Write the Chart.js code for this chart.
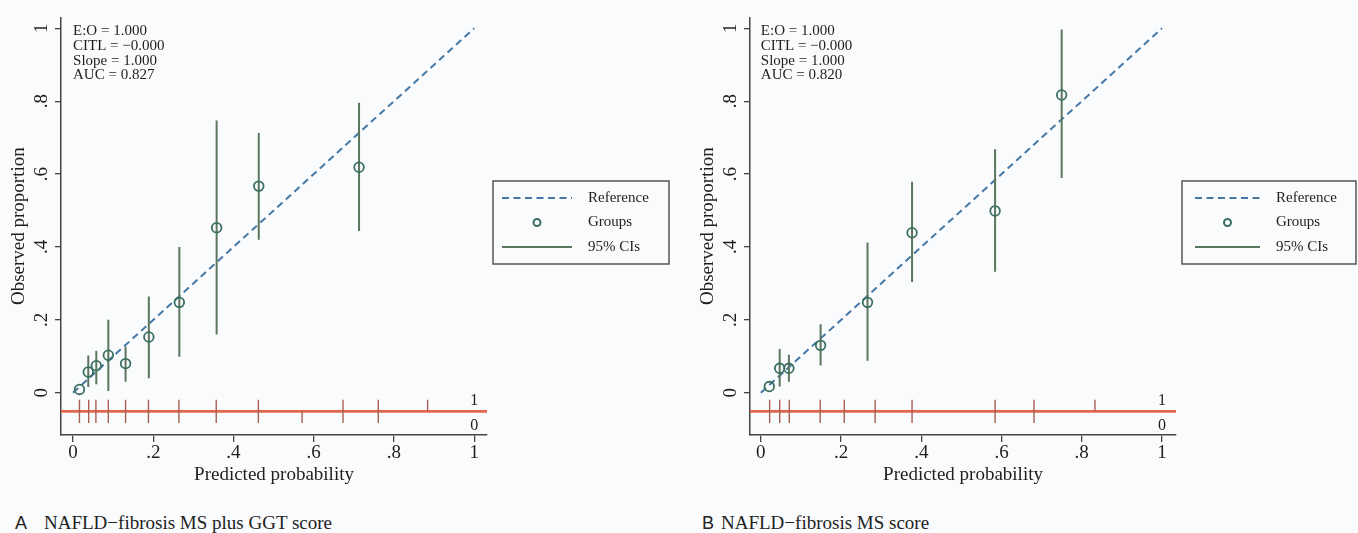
<!DOCTYPE html>
<html>
<head>
<meta charset="utf-8">
<script src="https://cdn.jsdelivr.net/npm/chart.js@4.4.0/dist/chart.umd.min.js"></script>
<style>
  body { margin: 0; background: #fafbfd; width: 1358px; height: 533px; overflow: hidden; position: relative; font-family: "Liberation Serif", serif; }
  .pane { position: absolute; top: 0; width: 679px; height: 500px; }
  .cap { position: absolute; top: 511px; font-size: 19px; line-height: 24px; color: #222; white-space: nowrap; }
  .lab { font-family: "Liberation Sans", sans-serif; font-size: 18px; }
</style>
</head>
<body>
<div class="pane" style="left:0"><canvas id="chartA"></canvas></div>
<div class="pane" style="left:679px"><canvas id="chartB"></canvas></div>
<div class="cap lab" style="left:15px">A</div>
<div class="cap" style="left:44px">NAFLD−fibrosis MS plus GGT score</div>
<div class="cap lab" style="left:702px">B</div>
<div class="cap" style="left:721px">NAFLD−fibrosis MS score</div>
<script>
// axis ticks (both panels)
const tickVals = [0, 0.2, 0.4, 0.6, 0.8, 1];
const tickLabels = ['0', '.2', '.4', '.6', '.8', '1'];

// panel A - NAFLD-fibrosis MS plus GGT score
const groupPredA = [0.016, 0.038, 0.058, 0.088, 0.131, 0.189, 0.265, 0.358, 0.463, 0.713];
const groupObsA  = [0.009, 0.057, 0.074, 0.103, 0.080, 0.153, 0.248, 0.453, 0.567, 0.619];
const ciLowA     = [null, 0.016, 0.023, 0.005, 0.030, 0.040, 0.099, 0.160, 0.420, 0.444];
const ciHighA    = [null, 0.102, 0.115, 0.200, 0.127, 0.264, 0.400, 0.747, 0.713, 0.796];
const rugOnesA   = [0.016, 0.039, 0.057, 0.088, 0.131, 0.188, 0.264, 0.357, 0.462, 0.673, 0.761, 0.884];
const rugZerosA  = [0.016, 0.039, 0.057, 0.088, 0.131, 0.188, 0.264, 0.357, 0.462, 0.571, 0.673, 0.761];
const statsA     = ['E:O = 1.000', 'CITL = −0.000', 'Slope = 1.000', 'AUC = 0.827'];

// panel B - NAFLD-fibrosis MS score
const groupPredB = [0.021, 0.047, 0.070, 0.149, 0.266, 0.377, 0.584, 0.750];
const groupObsB  = [0.017, 0.067, 0.067, 0.130, 0.248, 0.439, 0.499, 0.817];
const ciLowB     = [null, 0.017, 0.030, 0.075, 0.088, 0.304, 0.332, 0.589];
const ciHighB    = [null, 0.120, 0.104, 0.188, 0.412, 0.579, 0.668, 0.997];
const rugOnesB   = [0.022, 0.047, 0.071, 0.148, 0.208, 0.285, 0.377, 0.584, 0.681, 0.833];
const rugZerosB  = [0.022, 0.047, 0.071, 0.148, 0.208, 0.285, 0.377, 0.584, 0.681];
const statsB     = ['E:O = 1.000', 'CITL = −0.000', 'Slope = 1.000', 'AUC = 0.820'];

// reference diagonal
const refX = [0, 1];
const refY = [0, 1];

// plot geometry (axis ranges, rug level)
const yRange = [-0.116, 1.03];
const rugLevel = -0.051;
const rugLen = 0.032;

const serif = 'Liberation Serif';
const axisCol = '#454545';
const textCol = '#1e1e1e';

function ciSegments(xs, lo, hi) {
  var pts = [];
  for (var i = 0; i < xs.length; i++) {
    if (lo[i] == null) continue;
    pts.push({x: xs[i], y: lo[i]}, {x: xs[i], y: hi[i]}, {x: xs[i], y: null});
  }
  return pts;
}

function rugSegments(xs, dir) {
  var pts = [];
  xs.forEach(function (x) {
    pts.push({x: x, y: rugLevel}, {x: x, y: rugLevel + dir * rugLen}, {x: x, y: null});
  });
  return pts;
}

const extras = {
  id: 'extras',
  afterDraw(chart, args, o) {
    const ctx = chart.ctx, xs = chart.scales.x, ys = chart.scales.y;
    ctx.save();
    ctx.fillStyle = textCol;
    ctx.font = '15px "' + serif + '"';
    ctx.textBaseline = 'middle';
    ctx.textAlign = 'left';
    o.stats.forEach(function (s, i) {
      ctx.fillText(s, xs.getPixelForValue(0), 31 + i * 14.8);
    });
    // outcome labels of the rug
    const ry = ys.getPixelForValue(rugLevel);
    ctx.font = '16px "' + serif + '"';
    ctx.textAlign = 'center';
    ctx.fillText('1', xs.getPixelForValue(1), ry - 11);
    ctx.fillText('0', xs.getPixelForValue(1), ry + 14);

    // legend
    const L = o.legend;
    ctx.font = '15px "' + serif + '"';
    ctx.strokeStyle = '#555';
    ctx.lineWidth = 1.5;
    ctx.strokeRect(L.x, L.y, L.w, L.h);
    const rows = [L.y + 17, L.y + 41.5, L.y + 66];
    ctx.strokeStyle = '#4678a5';
    ctx.lineWidth = 2;
    ctx.setLineDash([7, 4.5]);
    ctx.beginPath(); ctx.moveTo(L.s0, rows[0]); ctx.lineTo(L.s1, rows[0]); ctx.stroke();
    ctx.setLineDash([]);
    ctx.strokeStyle = '#3a6f60';
    ctx.lineWidth = 2;
    ctx.beginPath(); ctx.arc((L.s0 + L.s1) / 2, rows[1], 3.5, 0, Math.PI * 2); ctx.stroke();
    ctx.strokeStyle = '#5a765c';
    ctx.lineWidth = 2;
    ctx.beginPath(); ctx.moveTo(L.s0, rows[2]); ctx.lineTo(L.s1, rows[2]); ctx.stroke();
    ctx.textAlign = 'left';
    ctx.fillText('Reference', L.tx, rows[0]);
    ctx.fillText('Groups', L.tx, rows[1]);
    ctx.fillText('95% CIs', L.tx, rows[2]);
    ctx.restore();
  }
};

function makeChart(id, p) {
  const tickFont = {family: serif, size: 19};
  return new Chart(document.getElementById(id), {
    type: 'scatter',
    data: {
      datasets: [
        {
          type: 'line', order: 3,
          data: [{x: p.xRange[0], y: rugLevel}, {x: p.xRange[1], y: rugLevel}],
          borderColor: '#e2674d', borderWidth: 2.8, pointRadius: 0
        },
        {
          type: 'line', order: 2, spanGaps: false,
          data: rugSegments(p.rugOnes, 1).concat(rugSegments(p.rugZeros, -1)),
          borderColor: '#a85e52', borderWidth: 1.4, pointRadius: 0
        },
        {
          type: 'line', order: 4,
          data: refX.map(function (x, i) { return {x: x, y: refY[i]}; }),
          borderColor: '#4678a5', borderWidth: 2, borderDash: [7, 4.5], pointRadius: 0
        },
        {
          type: 'line', order: 1, spanGaps: false,
          data: ciSegments(p.pred, p.lo, p.hi),
          borderColor: '#5a765c', borderWidth: 2, pointRadius: 0
        },
        {
          type: 'scatter', order: 0,
          data: p.pred.map(function (x, i) { return {x: x, y: p.obs[i]}; }),
          pointRadius: 4.8, pointBorderWidth: 1.8,
          pointBorderColor: '#3a6f60', pointBackgroundColor: 'rgba(0,0,0,0)'
        }
      ]
    },
    options: {
      responsive: true, maintainAspectRatio: false, animation: false, events: [],
      layout: {padding: {left: p.padLeft, right: p.padRight, top: 10, bottom: 0}},
      plugins: {legend: {display: false}, tooltip: {enabled: false}, extras: {stats: p.stats, legend: p.legend}},
      scales: {
        x: {
          type: 'linear', min: p.xRange[0], max: p.xRange[1],
          afterBuildTicks: function (s) { s.ticks = tickVals.map(function (v) { return {value: v}; }); },
          afterFit: function (s) { s.height = 65; },
          ticks: {autoSkip: false, maxRotation: 0, padding: 0, color: textCol, font: tickFont,
            callback: function (v) { return tickLabels[tickVals.indexOf(v)]; }},
          grid: {drawOnChartArea: false, drawTicks: true, tickLength: 7, color: axisCol, lineWidth: 1.3},
          border: {display: true, color: axisCol, width: 1.5},
          title: {display: true, text: 'Predicted probability', color: textCol, font: tickFont, padding: {top: 0, bottom: 14}}
        },
        y: {
          type: 'linear', min: yRange[0], max: yRange[1],
          afterBuildTicks: function (s) { s.ticks = tickVals.map(function (v) { return {value: v}; }); },
          afterFit: function (s) { s.width = 61; },
          ticks: {autoSkip: false, minRotation: 90, maxRotation: 90, crossAlign: 'center', padding: 6, color: textCol, font: tickFont,
            callback: function (v) { return tickLabels[tickVals.indexOf(v)]; }},
          grid: {drawOnChartArea: false, drawTicks: true, tickLength: 6, color: axisCol, lineWidth: 1.3},
          border: {display: true, color: axisCol, width: 1.5},
          title: {display: true, text: 'Observed proportion', color: textCol, font: tickFont, padding: {top: 8, bottom: 0}}
        }
      }
    },
    plugins: [extras]
  });
}

makeChart('chartA', {
  pred: groupPredA, obs: groupObsA, lo: ciLowA, hi: ciHighA,
  rugOnes: rugOnesA, rugZeros: rugZerosA, stats: statsA,
  xRange: [-0.03, 1.032], padLeft: 0, padRight: 192,
  legend: {x: 493, y: 181, w: 176, h: 83, s0: 502, s1: 572, tx: 588}
});
makeChart('chartB', {
  pred: groupPredB, obs: groupObsB, lo: ciLowB, hi: ciHighB,
  rugOnes: rugOnesB, rugZeros: rugZerosB, stats: statsB,
  xRange: [-0.027, 1.035], padLeft: 10, padRight: 182,
  legend: {x: 503, y: 181, w: 174, h: 83, s0: 516, s1: 581, tx: 597}
});
</script>
</body>
</html>
